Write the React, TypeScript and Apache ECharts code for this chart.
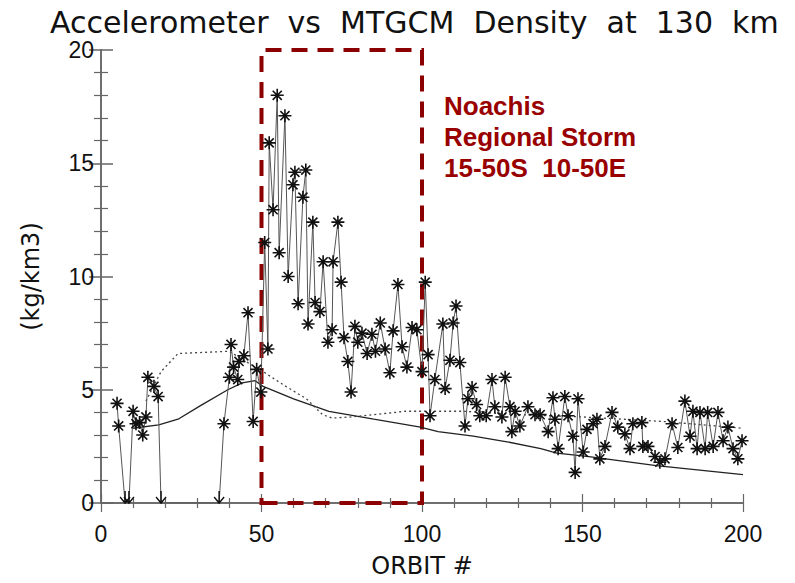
import React, { useEffect, useRef } from "react";
import * as echarts from "echarts";

// Accelerometer density measurements (orbit #, kg/km3); 0 = below axis (arrow)
const accelOrbit = [
  5.0, 5.5, 7.5, 8.7, 10.0, 10.9, 12.0, 13.0, 14.0, 14.6, 16.5, 17.8, 18.7, 36.8, 38.3,
  40.0, 40.5, 41.3, 42.6, 43.0, 44.5, 45.8, 47.4, 48.5, 49.8, 51.0, 52.0, 52.4, 53.6, 54.9,
  55.5, 57.3, 58.3, 59.8, 60.4, 61.4, 62.9, 63.8, 64.5, 66.0, 66.7, 68.2, 69.2, 70.7, 72.0,
  72.3, 73.8, 74.8, 75.7, 76.9, 77.9, 79.1, 80.0, 81.3, 82.9, 84.4, 85.5, 87.0, 88.5, 90.0,
  91.0, 92.5, 93.8, 95.3, 96.9, 98.4, 100.0, 101.0, 101.9, 102.5, 104.0, 106.5, 107.2, 108.7, 109.7,
  110.6, 111.8, 113.4, 114.3, 115.6, 117.0, 118.0, 120.0, 121.8, 122.7, 124.9, 125.9, 127.4, 128.0, 129.0,
  130.5, 133.0, 135.2, 136.8, 139.3, 140.8, 141.4, 142.4, 144.5, 145.5, 147.0, 147.7, 148.6, 150.2, 151.4,
  153.3, 154.5, 155.4, 157.0, 159.2, 161.0, 163.2, 164.8, 165.7, 168.5, 168.8, 170.4, 172.6, 174.1, 175.7,
  177.9, 179.7, 181.9, 183.5, 184.4, 185.7, 186.6, 188.2, 189.0, 190.7, 192.2, 193.8, 195.3, 196.9, 198.4,
  199.7,
];
const accelDensity = [
  4.4, 3.4, 0, 0, 4.05, 3.5, 3.55, 3.0, 3.8, 5.55, 5.15, 4.7, 0, 0, 3.5,
  5.55, 7.0, 6.0, 5.45, 6.25, 6.5, 8.4, 3.6, 5.9, 4.9, 11.5, 6.8, 15.9, 12.95, 18.0,
  11.05, 17.1, 10.0, 14.05, 14.6, 8.8, 13.5, 14.7, 7.9, 12.4, 8.85, 8.45, 10.65, 7.1, 7.65,
  10.65, 12.4, 9.75, 7.3, 6.25, 4.9, 7.8, 7.1, 7.5, 6.6, 7.45, 6.7, 7.95, 6.8, 5.75,
  7.6, 9.65, 6.9, 6.0, 7.75, 7.65, 5.8, 9.75, 6.55, 3.85, 5.45, 7.9, 5.05, 6.3, 7.95,
  8.7, 6.2, 3.4, 4.6, 5.1, 4.35, 3.85, 3.85, 5.45, 4.25, 3.8, 5.55, 4.25, 3.15, 4.05,
  3.4, 4.25, 3.9, 3.9, 3.15, 4.65, 3.7, 2.4, 4.7, 3.85, 2.95, 1.35, 4.6, 2.25, 3.25,
  3.5, 3.7, 1.95, 2.5, 4.0, 3.35, 3.05, 2.4, 3.5, 3.55, 2.5, 2.5, 2.05, 1.8, 1.95,
  3.5, 2.45, 4.5, 2.95, 4.05, 2.4, 4.0, 2.4, 4.0, 2.5, 4.0, 2.75, 3.35, 2.4, 1.95,
  2.75,
];

// MTGCM model (solid)
const modelSolidOrbit = [10, 18, 24, 31, 39.5, 44, 48, 50.5, 60, 71, 85, 99.5, 105, 116, 126.5, 137, 142, 152, 162.5, 173, 183.5, 200];
const modelSolidDensity = [3.3, 3.45, 3.7, 4.3, 5.0, 5.3, 5.4, 5.15, 4.6, 4.05, 3.7, 3.35, 3.15, 2.95, 2.7, 2.4, 2.2, 2.05, 1.85, 1.65, 1.5, 1.25];

// MTGCM model (dotted)
const modelDotOrbit = [14, 18.7, 24, 40, 43.3, 50.5, 57, 64, 69, 72, 78, 95, 113, 130, 150, 175, 200];
const modelDotDensity = [4.5, 5.8, 6.6, 6.7, 6.4, 5.8, 5.2, 4.6, 3.9, 3.75, 3.8, 4.05, 4.05, 3.9, 3.8, 3.6, 3.3];

const stormRange = [50, 100];
const annotationLines = ["Noachis", "Regional Storm", "15-50S  10-50E"];

const ASTERISK = "path://M0,-6L0,6M-6,0L6,0M-4.2,-4.2L4.2,4.2M-4.2,4.2L4.2,-4.2";
const ARROW = "path://M5,0L5,12M0,6L5,12L10,6";

export default function App() {
  const ref = useRef<HTMLDivElement>(null);
  useEffect(() => {
    if (!ref.current) return;
    const chart = echarts.init(ref.current, null, { renderer: "svg" });
    const accelData = accelOrbit.map((x, i) => {
      const y = accelDensity[i];
      if (y === 0) {
        return { value: [x, y], symbol: ARROW, symbolSize: [10, 12], symbolOffset: [0, -6] };
      }
      return { value: [x, y] };
    });
    const axisColor = "#666";
    const xCommon = {
      type: "value",
      min: 0,
      max: 200,
      interval: 50,
      axisLine: { show: true, lineStyle: { color: axisColor, width: 1.5 } },
      axisTick: { show: true, inside: true, length: 9, lineStyle: { color: axisColor, width: 1.2 } },
      minorTick: { show: true, splitNumber: 5, length: 5, lineStyle: { color: axisColor, width: 1.2 } },
      splitLine: { show: false },
    };
    const yCommon = {
      type: "value",
      min: 0,
      max: 20,
      interval: 5,
      axisLine: { show: true, lineStyle: { color: axisColor, width: 1.5 } },
      axisTick: { show: true, inside: true, length: 12, lineStyle: { color: axisColor, width: 1.5 } },
      minorTick: { show: true, splitNumber: 5, length: 7, lineStyle: { color: axisColor, width: 1.2 } },
      splitLine: { show: false },
    };
    chart.setOption({
      animation: false,
      backgroundColor: "#fff",
      title: {
        text: "Accelerometer  vs  MTGCM  Density  at  130  km",
        left: 50,
        top: 7,
        padding: 0,
        textStyle: {
          fontFamily: "DejaVu Sans",
          fontSize: 30,
          lineHeight: 30,
          fontWeight: "normal",
          color: "#111",
        },
      },
      grid: { left: 101, right: 52, top: 50, bottom: 79 },
      xAxis: [
        {
          ...xCommon,
          position: "bottom",
          name: "ORBIT #",
          nameLocation: "middle",
          nameGap: 51,
          nameTextStyle: { fontFamily: "DejaVu Sans", fontSize: 24, color: "#111" },
          axisLabel: { margin: 19, fontFamily: "Liberation Sans", fontSize: 23, color: "#111" },
        },
        { ...xCommon, position: "top", axisLabel: { show: false } },
      ],
      yAxis: [
        {
          ...yCommon,
          position: "left",
          name: "(kg/km3)",
          nameLocation: "middle",
          nameGap: 58,
          nameTextStyle: { fontFamily: "DejaVu Sans", fontSize: 24, color: "#111" },
          axisLabel: { margin: 7, fontFamily: "Liberation Sans", fontSize: 23, color: "#111" },
        },
        { ...yCommon, position: "right", axisLabel: { show: false } },
      ],
      series: [
        {
          type: "line",
          data: modelSolidOrbit.map((x, i) => [x, modelSolidDensity[i]]),
          showSymbol: false,
          lineStyle: { color: "#222", width: 1.3 },
          z: 2,
        },
        {
          type: "line",
          data: modelDotOrbit.map((x, i) => [x, modelDotDensity[i]]),
          showSymbol: false,
          lineStyle: { color: "#444", width: 1.3, type: [2, 3] },
          z: 2,
        },
        {
          type: "line",
          data: accelData,
          symbol: ASTERISK,
          symbolSize: 13,
          lineStyle: { color: "#555", width: 1 },
          itemStyle: { color: "rgba(0,0,0,0)", borderColor: "#111", borderWidth: 1.6 },
          z: 3,
        },
        {
          type: "line",
          data: [],
          z: 10,
          markArea: {
            silent: true,
            itemStyle: {
              color: "rgba(0,0,0,0)",
              borderColor: "#8B0000",
              borderWidth: 4,
              borderType: [16, 10],
            },
            data: [[{ coord: [stormRange[0], 0] }, { coord: [stormRange[1], 20] }]],
          },
        },
      ],
      graphic: annotationLines.map((t, i) => ({
        type: "text",
        left: 444,
        top: 93 + i * 31,
        z: 20,
        style: {
          text: t,
          fill: "#990000",
          font: "bold 26px 'Liberation Sans', Arial, sans-serif",
        },
      })),
    });
    return () => chart.dispose();
  }, []);
  return (
    <div
      ref={ref}
      style={{ position: "fixed", left: 0, top: 0, width: 795, height: 583 }}
    />
  );
}
